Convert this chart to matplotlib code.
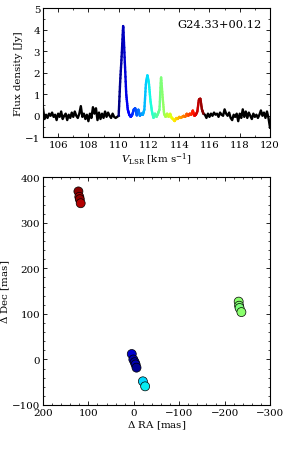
import numpy as np
import matplotlib
matplotlib.use("Agg")
import matplotlib.pyplot as plt
from matplotlib.collections import LineCollection
from matplotlib.ticker import MultipleLocator

plt.rcParams['font.family'] = ['DejaVu Serif']
plt.rcParams['mathtext.fontset'] = 'dejavuserif'

source_name = "G24.33+00.12"

# Spectrum: velocity (km/s) and flux density (Jy), 0.1 km/s channels from 105.0 to 120.0
v_start, v_step = 105.0, 0.1
flux = [
    0.35, -0.15, 0.05, -0.1, 0.1, 0.0, 0.15, -0.05, 0.05, -0.2,
    0.1, -0.05, 0.2, -0.15, 0.0, 0.1, -0.2, 0.05, -0.1, 0.15,
    -0.05, 0.2, 0.0, -0.1, 0.1, 0.45, -0.05, 0.1, -0.15, 0.05,
    -0.25, 0.1, -0.1, 0.4, 0.1, 0.35, -0.2, 0.15, -0.15, 0.1,
    -0.1, 0.2, -0.05, 0.15, 0.0, -0.1, 0.1, -0.05, -0.1, -0.05,
    0.0, 1.6, 2.8, 4.25, 2.6, 1.0, 0.3, 0.05, -0.05, 0.05,
    0.3, 0.35, 0.0, 0.3, 0.0, 0.1, 0.05, 0.3, 1.5, 1.9,
    1.5, 0.7, 0.2, -0.1, 0.1, -0.05, 0.1, 0.3, 1.85, 0.9,
    0.1, -0.05, 0.1, -0.05, 0.1, -0.1, -0.15, -0.25, -0.1, -0.15,
    -0.05, -0.1, -0.05, 0.0, -0.05, 0.1, 0.0, 0.1, 0.05, 0.25,
    0.0, 0.05, 0.2, 0.75, 0.8, 0.3, 0.1, 0.05, -0.1, 0.1,
    -0.05, 0.1, 0.0, 0.15, 0.05, 0.1, -0.05, 0.15, 0.05, 0.0,
    0.3, 0.1, 0.0, 0.15, -0.1, -0.2, 0.05, -0.05, 0.1, -0.25,
    0.1, -0.1, 0.3, -0.05, 0.2, -0.1, 0.15, 0.0, -0.15, 0.1,
    -0.05, 0.05, -0.1, 0.05, 0.25, 0.0, 0.15, -0.1, 0.2, -0.1,
    -0.55,
]
vel_color_min = 110.0   # start of coloured (maser emission) velocity range
vel_color_max = 115.6   # end of coloured velocity range

# Maser spots: offsets (mas) and LSR velocity (km/s)
spot_ra = [122, 120, 119, 117, 4.5, 1, -2, -4, -6, -20, -25, -231, -232, -233, -237]
spot_dec = [369, 357, 352, 343, 12, 0, -6, -11, -18, -48, -59, 127, 118, 113, 104]
spot_vel = [115.55, 115.4, 115.5, 115.35, 110.4, 110.2, 110.15, 110.25, 110.1,
            111.9, 112.0, 112.9, 112.85, 112.8, 112.9]

vel = v_start + v_step * np.arange(len(flux))
flux = np.array(flux)

cmap = plt.get_cmap('jet')
norm = plt.Normalize(vel_color_min, vel_color_max)

fig = plt.figure(figsize=(2.85, 4.56), dpi=100)
ax1 = fig.add_axes([43/285, 1 - 138.3/456, (270-43)/285, (138.3-9.3)/456])
ax2 = fig.add_axes([43/285, 1 - 406/456, (270-43)/285, (406-178.3)/456])

fs = 7.4
lw = 1.7
mask_lo = vel <= vel_color_min + 1e-9
mask_hi = vel >= vel_color_max - 1e-9
ax1.plot(vel[mask_lo], flux[mask_lo], color='k', lw=lw)
ax1.plot(vel[mask_hi], flux[mask_hi], color='k', lw=lw)
sel = (vel >= vel_color_min - 1e-9) & (vel <= vel_color_max + 1e-9)
vs, fsel = vel[sel], flux[sel]
vv = np.linspace(vs[0], vs[-1], 400)
ff = np.interp(vv, vs, fsel)
pts = np.array([vv, ff]).T.reshape(-1, 1, 2)
segs = np.concatenate([pts[:-1], pts[1:]], axis=1)
lc = LineCollection(segs, cmap=cmap, norm=norm, linewidth=lw, capstyle='round')
lc.set_array(0.5 * (vv[:-1] + vv[1:]))
ax1.add_collection(lc)

ax1.set_xlim(105, 120)
ax1.set_ylim(-1, 5)
ax1.xaxis.set_major_locator(MultipleLocator(2))
ax1.xaxis.set_minor_locator(MultipleLocator(1))
ax1.yaxis.set_major_locator(MultipleLocator(1))
ax1.yaxis.set_minor_locator(MultipleLocator(0.5))
ax1.set_ylabel("Flux density [Jy]", fontsize=fs)
ax1.yaxis.set_label_coords(-0.09, 0.5)
ax1.set_xlabel(r"$V_{\rm LSR}$ [km s$^{-1}$]", fontsize=fs, labelpad=1)
ax1.text(0.965, 0.88, source_name, transform=ax1.transAxes, ha='right', va='center', fontsize=8.2)

ax2.scatter(spot_ra, spot_dec, c=spot_vel, cmap=cmap, norm=norm, s=42,
            edgecolors='k', linewidths=0.5, zorder=3)
ax2.set_xlim(200, -300)
ax2.set_ylim(-100, 400)
ax2.xaxis.set_major_locator(MultipleLocator(100))
ax2.xaxis.set_minor_locator(MultipleLocator(20))
ax2.yaxis.set_major_locator(MultipleLocator(100))
ax2.yaxis.set_minor_locator(MultipleLocator(20))
ax2.set_xlabel(r"$\Delta$ RA [mas]", fontsize=fs, labelpad=1)
ax2.set_ylabel(r"$\Delta$ Dec [mas]", fontsize=fs)
ax2.yaxis.set_label_coords(-0.135, 0.5)

for ax in (ax1, ax2):
    ax.tick_params(which='both', direction='in', top=True, right=True, labelsize=fs, pad=2)
    ax.tick_params(which='major', length=3, width=0.6)
    ax.tick_params(which='minor', length=1.5, width=0.5)
    for sp in ax.spines.values():
        sp.set_linewidth(0.8)

fig.savefig("out.png", dpi=100)
